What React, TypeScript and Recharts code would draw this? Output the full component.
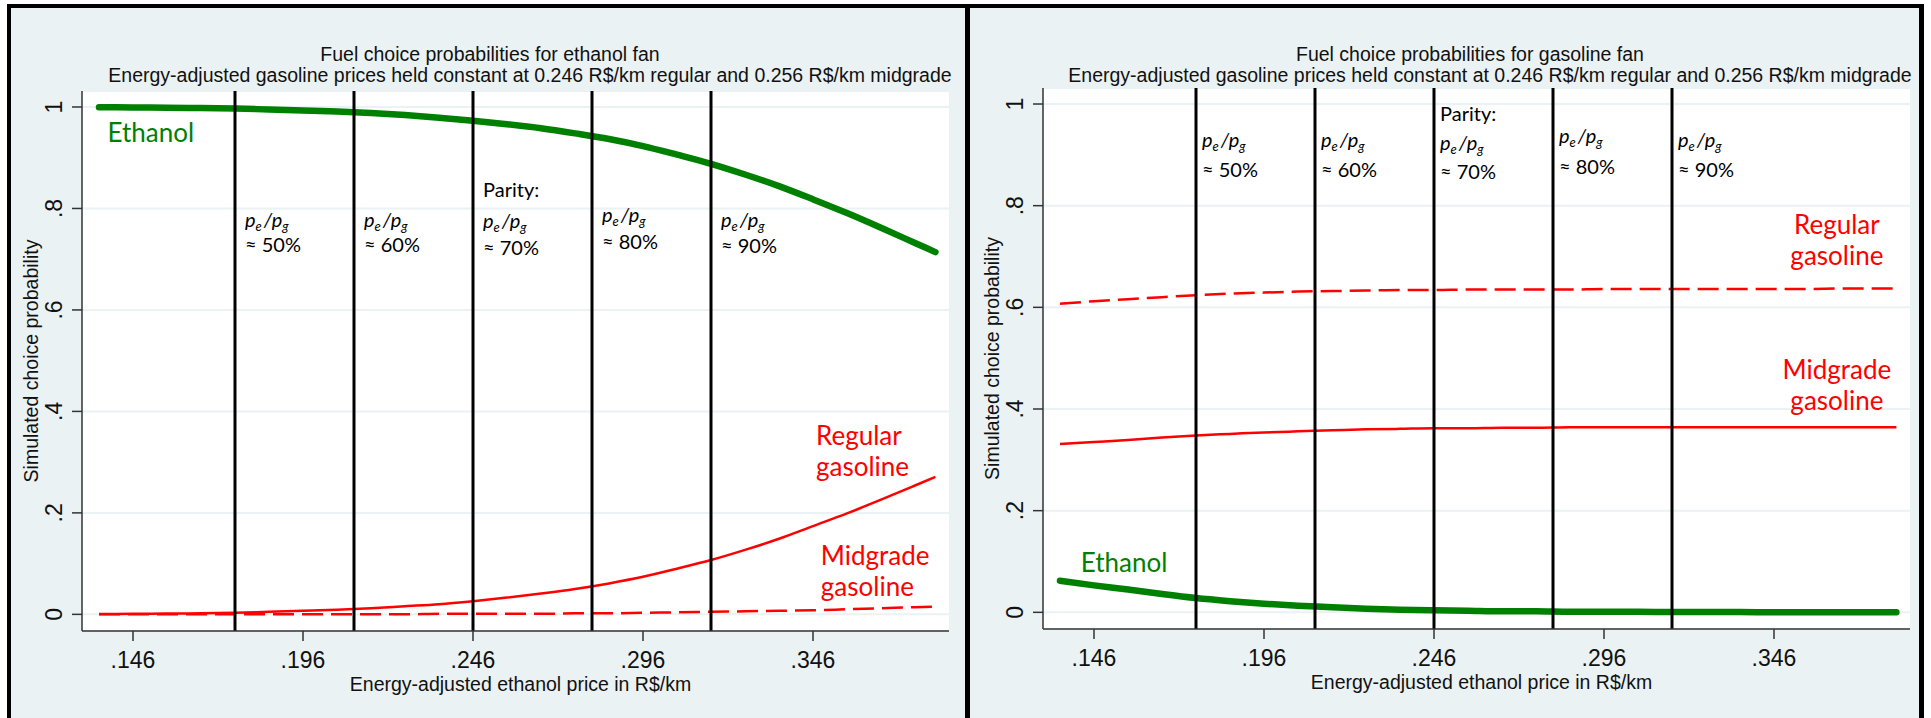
import React from 'react';
import {
  LineChart,
  Line,
  XAxis,
  YAxis,
  CartesianGrid,
  ReferenceLine,
  ReferenceDot,
  Label,
} from 'recharts';

// Energy-adjusted ethanol price (R$/km) at which choices were simulated
const prices = [
  0.136, 0.146, 0.156, 0.166, 0.176, 0.186, 0.196, 0.206, 0.216, 0.226, 0.236, 0.246, 0.256,
  0.266, 0.276, 0.286, 0.296, 0.306, 0.316, 0.326, 0.336, 0.346, 0.356, 0.366, 0.376, 0.382,
];

// Ethanol fan
const ethanolFanEthanol = [
  0.9995, 0.999, 0.9985, 0.998, 0.997, 0.995, 0.993, 0.991, 0.988, 0.984, 0.979, 0.973, 0.966,
  0.958, 0.948, 0.937, 0.923, 0.906, 0.888, 0.867, 0.844, 0.818, 0.791, 0.762, 0.732, 0.714,
];
const ethanolFanRegular = [
  0.0005, 0.001, 0.0015, 0.002, 0.003, 0.005, 0.007, 0.009, 0.012, 0.016, 0.02, 0.026, 0.033,
  0.041, 0.05, 0.061, 0.074, 0.09, 0.107, 0.127, 0.149, 0.174, 0.199, 0.226, 0.254, 0.271,
];
const ethanolFanMidgrade = [
  0, 0, 0, 0, 0, 0, 0, 0, 0, 0, 0.001, 0.001, 0.001, 0.001, 0.002, 0.002, 0.003, 0.004, 0.005,
  0.006, 0.007, 0.008, 0.01, 0.012, 0.014, 0.015,
];

// Gasoline fan
const gasolineFanEthanol = [
  0.062, 0.053, 0.045, 0.036, 0.028, 0.022, 0.017, 0.013, 0.01, 0.007, 0.005, 0.004, 0.003,
  0.002, 0.002, 0.001, 0.001, 0.001, 0.0005, 0.0005, 0.0005, 0, 0, 0, 0, 0,
];
const gasolineFanRegular = [
  0.607, 0.612, 0.616, 0.62, 0.624, 0.627, 0.629, 0.631, 0.632, 0.633, 0.634, 0.634, 0.635,
  0.635, 0.635, 0.635, 0.636, 0.636, 0.636, 0.636, 0.636, 0.636, 0.636, 0.637, 0.637, 0.637,
];
const gasolineFanMidgrade = [
  0.331, 0.335, 0.339, 0.344, 0.348, 0.351, 0.354, 0.356, 0.358, 0.36, 0.361, 0.362, 0.362,
  0.363, 0.363, 0.364, 0.364, 0.364, 0.364, 0.364, 0.364, 0.364, 0.364, 0.364, 0.364, 0.364,
];

const priceTicks = [0.146, 0.196, 0.246, 0.296, 0.346];
const probTicks = [0, 0.2, 0.4, 0.6, 0.8, 1];

// p_e/p_g reference prices, gasoline at 0.351 R$/km
const ratioPrices = [0.176, 0.211, 0.246, 0.281, 0.316];
const ratioShares = ['50%', '60%', '70%', '80%', '90%'];
const parityIndex = 2;

const GREEN = '#008000';
const RED = '#FF0000';
const PANEL_BG = '#EAF2F3';
const SANS = '"Liberation Sans", Arial, sans-serif';
const HUMANIST = 'Lato, "Open Sans", sans-serif';

const buildRows = (eth: number[], reg: number[], mid: number[]) =>
  prices.map((price, i) => ({ price, ethanol: eth[i], regular: reg[i], midgrade: mid[i] }));

const fmtPrice = (v: number) => v.toFixed(3).replace(/^0/, '');
const fmtProb = (v: number) => (v === 0 ? '0' : v === 1 ? '1' : String(v).replace(/^0/, ''));

const XTick = ({ x, y, payload }: any) => (
  <text x={x} y={y + 26.5} textAnchor="middle" fontSize={23} fontFamily={SANS} fill="#111">
    {fmtPrice(payload.value)}
  </text>
);

const YTick = ({ x, y, payload }: any) => (
  <text
    x={x - 10}
    y={y}
    transform={`rotate(-90, ${x - 10}, ${y})`}
    textAnchor="middle"
    fontSize={23}
    fontFamily={SANS}
    fill="#111"
  >
    {fmtProb(payload.value)}
  </text>
);

const Ratio = ({ x, y }: { x: number; y: number }) => (
  <text x={x} y={y} fontFamily={HUMANIST} fontSize={20} fill="#000" fontStyle="italic">
    <tspan>p</tspan>
    <tspan fontSize={13} dy={4}>e</tspan>
    <tspan dy={-4} dx={2}>/p</tspan>
    <tspan fontSize={13} dy={4}>g</tspan>
  </text>
);

const RatioNote = ({ viewBox, share, parity, rows, dx }: any) => {
  const x = viewBox.x + dx;
  const top = viewBox.y;
  return (
    <g>
      {parity && (
        <text x={x} y={top + rows[0]} fontFamily={HUMANIST} fontSize={20} fill="#000">
          Parity:
        </text>
      )}
      <Ratio x={x} y={top + rows[1]} />
      <text x={x} y={top + rows[2]} fontFamily={HUMANIST} fontSize={20} fill="#000">
        {'\u2248 ' + share}
      </text>
    </g>
  );
};

const SeriesName = ({ cx, cy, lines, color, anchor }: any) => (
  <text x={cx} y={cy} fontFamily={HUMANIST} fontSize={26} fill={color} textAnchor={anchor}>
    {lines.map((l: string, i: number) => (
      <tspan key={l + i} x={cx} dy={i === 0 ? 0 : 31}>
        {l}
      </tspan>
    ))}
  </text>
);

type PanelProps = {
  left: number;
  margin: { top: number; right: number; bottom: number; left: number };
  rows: any[];
  regularDashed: boolean;
  noteRows: number[][];
  noteDx: number;
  names: { x: number; y: number; lines: string[]; color: string; anchor: string }[];
};

const Panel = ({ left, margin, rows, regularDashed, noteRows, noteDx, names }: PanelProps) => (
  <div style={{ position: 'absolute', left, top: 0 }}>
    <LineChart width={965} height={718} data={rows} margin={margin}>
      <CartesianGrid
        vertical={false}
        stroke={PANEL_BG}
        strokeWidth={2}
        fill="#FFFFFF"
        fillOpacity={1}
      />
      <XAxis
        type="number"
        dataKey="price"
        domain={[0.131, 0.386]}
        allowDataOverflow
        ticks={priceTicks}
        tick={<XTick />}
        tickSize={10}
        tickMargin={0}
        height={60}
        stroke="#333"
        strokeWidth={1.5}
      >
        <Label
          content={({ viewBox }: any) => (
            <text
              x={viewBox.x + viewBox.width / 2 + 5}
              y={viewBox.y + 59.5}
              textAnchor="middle"
              fontSize={19.5}
              fontFamily={SANS}
              fill="#111"
            >
              Energy-adjusted ethanol price in R$/km
            </text>
          )}
        />
      </XAxis>
      <YAxis
        type="number"
        domain={[-0.0328, 1.0315]}
        allowDataOverflow
        ticks={probTicks}
        tick={<YTick />}
        tickSize={10}
        tickMargin={0}
        width={72}
        stroke="#333"
        strokeWidth={1.5}
      >
        <Label
          content={({ viewBox }: any) => {
            const bx = viewBox.x + viewBox.width - 44;
            const cy = viewBox.y + viewBox.height / 2;
            return (
              <text
                x={bx}
                y={cy}
                transform={`rotate(-90, ${bx}, ${cy})`}
                textAnchor="middle"
                fontSize={19.5}
                fontFamily={SANS}
                fill="#111"
              >
                Simulated choice probability
              </text>
            );
          }}
        />
      </YAxis>
      <Line
        dataKey="midgrade"
        type="monotone"
        stroke={RED}
        strokeWidth={2.5}
        strokeDasharray={regularDashed ? undefined : '21 8'}
        dot={false}
        isAnimationActive={false}
      />
      <Line
        dataKey="regular"
        type="monotone"
        stroke={RED}
        strokeWidth={2.5}
        strokeDasharray={regularDashed ? '21 8' : undefined}
        dot={false}
        isAnimationActive={false}
      />
      <Line
        dataKey="ethanol"
        type="monotone"
        stroke={GREEN}
        strokeWidth={6.5}
        strokeLinecap="round"
        dot={false}
        isAnimationActive={false}
      />
      {ratioPrices.map((p, i) => (
        <ReferenceLine
          key={p}
          x={p}
          stroke="#000"
          strokeWidth={3}
          label={(props: any) => (
            <RatioNote
              {...props}
              share={ratioShares[i]}
              parity={i === parityIndex}
              rows={noteRows[i]}
              dx={noteDx}
            />
          )}
        />
      ))}
      {names.map((n) => (
        <ReferenceDot
          key={n.lines.join(' ')}
          x={n.x}
          y={n.y}
          r={1}
          ifOverflow="visible"
          shape={(props: any) => (
            <SeriesName cx={props.cx} cy={props.cy} lines={n.lines} color={n.color} anchor={n.anchor} />
          )}
        />
      ))}
    </LineChart>
  </div>
);

const ethanolFanRows = buildRows(ethanolFanEthanol, ethanolFanRegular, ethanolFanMidgrade);
const gasolineFanRows = buildRows(gasolineFanEthanol, gasolineFanRegular, gasolineFanMidgrade);

export default function App() {
  return (
    <div
      style={{
        position: 'absolute',
        left: 0,
        top: 0,
        width: 1931,
        height: 718,
        overflow: 'hidden',
        background: '#fff',
      }}
    >
      <svg width={1931} height={718} style={{ position: 'absolute', left: 0, top: 0 }}>
        <rect x={11} y={8} width={954} height={710} fill={PANEL_BG} />
        <rect x={970} y={8} width={949} height={710} fill={PANEL_BG} />
        <rect x={7} y={4} width={1917} height={4} fill="#000" />
        <rect x={7} y={4} width={4} height={714} fill="#000" />
        <rect x={965} y={4} width={5} height={714} fill="#000" />
        <rect x={1919} y={4} width={5} height={714} fill="#000" />
        <g fontFamily={SANS} fontSize={19.5} fill="#111" textAnchor="middle">
          <text x={490} y={61}>Fuel choice probabilities for ethanol fan</text>
          <text x={530} y={82}>
            Energy-adjusted gasoline prices held constant at 0.246 R$/km regular and 0.256 R$/km midgrade
          </text>
          <text x={1470} y={61}>Fuel choice probabilities for gasoline fan</text>
          <text x={1490} y={82}>
            Energy-adjusted gasoline prices held constant at 0.246 R$/km regular and 0.256 R$/km midgrade
          </text>
        </g>
      </svg>

      <Panel
        left={0}
        margin={{ top: 91, right: 16, bottom: 27, left: 10 }}
        rows={ethanolFanRows}
        regularDashed={false}
        noteDx={10}
        noteRows={[
          [0, 136, 161],
          [0, 136, 161],
          [106, 137, 164],
          [0, 131, 158],
          [0, 136, 162],
        ]}
        names={[
          { x: 0.1385, y: 0.93, lines: ['Ethanol'], color: GREEN, anchor: 'start' },
          { x: 0.3469, y: 0.334, lines: ['Regular', 'gasoline'], color: RED, anchor: 'start' },
          { x: 0.3483, y: 0.098, lines: ['Midgrade', 'gasoline'], color: RED, anchor: 'start' },
        ]}
      />
      <Panel
        left={960}
        margin={{ top: 88, right: 15, bottom: 29, left: 11 }}
        rows={gasolineFanRows}
        regularDashed={true}
        noteDx={6}
        noteRows={[
          [0, 59, 89],
          [0, 59, 89],
          [33, 62, 91],
          [0, 55, 86],
          [0, 59, 89],
        ]}
        names={[
          { x: 0.1421, y: 0.079, lines: ['Ethanol'], color: GREEN, anchor: 'start' },
          { x: 0.3645, y: 0.744, lines: ['Regular', 'gasoline'], color: RED, anchor: 'middle' },
          { x: 0.3645, y: 0.46, lines: ['Midgrade', 'gasoline'], color: RED, anchor: 'middle' },
        ]}
      />
    </div>
  );
}
